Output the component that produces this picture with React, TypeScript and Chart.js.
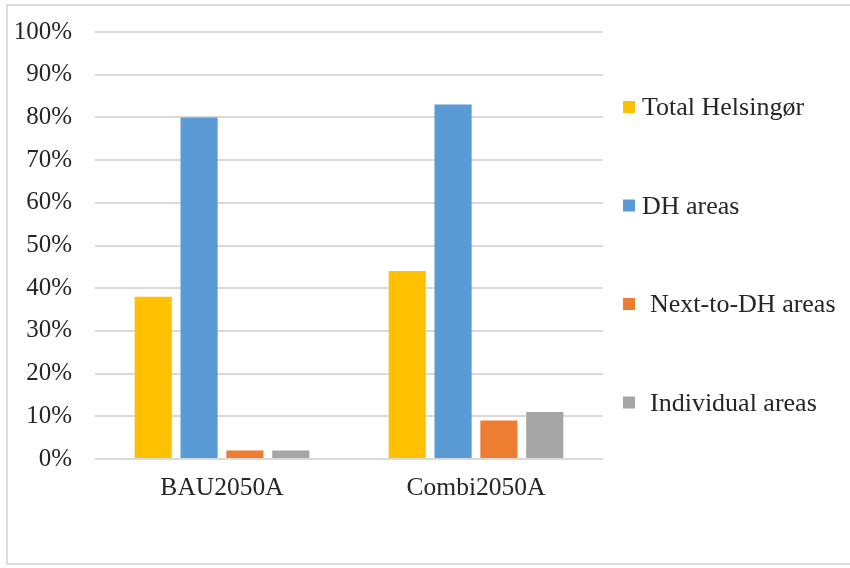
import React, { useEffect, useRef } from "react";
import { Chart, registerables } from "chart.js";

Chart.register(...registerables);

const categories = ["BAU2050A", "Combi2050A"];
const seriesNames = ["Total Helsingør", "DH areas", "Next-to-DH areas", "Individual areas"];
const totalHelsingor = [38, 44];
const dhAreas = [80, 83];
const nextToDhAreas = [2, 9];
const individualAreas = [2, 11];
const seriesColors = ["#FFC000", "#5B9BD5", "#ED7D31", "#A5A5A5"];
const yMax = 100;
const yStep = 10;

const FONT_FAMILY = "'Liberation Serif', 'Times New Roman', serif";
const TEXT_COLOR = "#262626";
const LEGEND_FIRST_Y = 107;
const LEGEND_GAP = 98.5;
const LEGEND_INDENT = [0, 0, 8, 8];

const sideLegend = {
  id: "sideLegend",
  afterDraw(chart: any) {
    const { ctx, chartArea } = chart;
    ctx.save();
    ctx.font = `26px ${FONT_FAMILY}`;
    ctx.textBaseline = "alphabetic";
    ctx.textAlign = "left";
    chart.data.datasets.forEach((ds: any, i: number) => {
      const cy = LEGEND_FIRST_Y + i * LEGEND_GAP;
      const x = chartArea.right + 20;
      ctx.fillStyle = ds.backgroundColor;
      ctx.fillRect(x, cy - 6, 12, 12);
      ctx.fillStyle = TEXT_COLOR;
      ctx.fillText(ds.label, x + 19 + LEGEND_INDENT[i], cy + 8);
    });
    ctx.restore();
  },
};

export default function App() {
  const canvasRef = useRef<HTMLCanvasElement | null>(null);

  useEffect(() => {
    if (!canvasRef.current) return;
    const values = [totalHelsingor, dhAreas, nextToDhAreas, individualAreas];
    const chart = new Chart(canvasRef.current, {
      type: "bar",
      data: {
        labels: categories,
        datasets: seriesNames.map((name, i) => ({
          label: name,
          data: values[i],
          backgroundColor: seriesColors[i],
          borderWidth: 0,
          categoryPercentage: 0.722,
          barPercentage: 0.81,
        })),
      },
      options: {
        animation: false,
        responsive: true,
        maintainAspectRatio: false,
        layout: { padding: { left: 14, top: 32, right: 247, bottom: 65 } },
        plugins: {
          legend: { display: false },
          tooltip: { enabled: false },
        },
        scales: {
          x: {
            grid: { display: false, drawTicks: false },
            border: { display: false },
            afterFit: (scale: any) => {
              scale.height = 44;
            },
            ticks: {
              padding: 14,
              color: TEXT_COLOR,
              font: { family: FONT_FAMILY, size: 25.5 },
            },
          },
          y: {
            min: 0,
            max: yMax,
            grid: { color: "#d9d9d9", lineWidth: 2, drawTicks: false },
            border: { display: false },
            afterFit: (scale: any) => {
              scale.width = 81;
              scale.paddingTop = 0;
              scale.paddingBottom = 0;
            },
            ticks: {
              stepSize: yStep,
              padding: 23,
              color: TEXT_COLOR,
              font: { family: FONT_FAMILY, size: 25 },
              callback: (v: any) => `${v}%`,
            },
          },
        },
      },
      plugins: [sideLegend],
    });
    return () => chart.destroy();
  }, []);

  return (
    <div style={{ position: "fixed", left: 0, top: 0, width: 850, height: 568, background: "#fff" }}>
      <div
        style={{
          position: "absolute",
          left: 6,
          top: 4,
          right: -4,
          bottom: 3,
          border: "2px solid #dcdcdc",
        }}
      />
      <div style={{ position: "absolute", left: 0, top: 0, width: 850, height: 568 }}>
        <canvas ref={canvasRef} />
      </div>
    </div>
  );
}
